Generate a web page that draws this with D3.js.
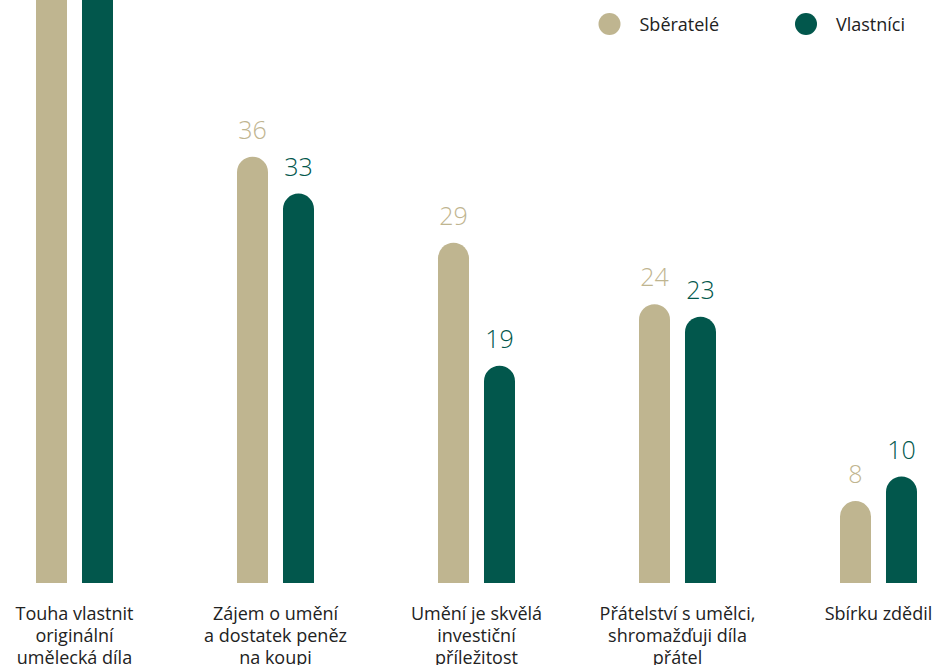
<!DOCTYPE html>
<html><head><meta charset="utf-8">
<script src="https://cdn.jsdelivr.net/npm/d3@7"></script>
<style>
html,body{margin:0;padding:0;background:#fff;}
svg{display:block;font-family:"Open Sans",sans-serif;}
</style></head>
<body>
<svg id="c" width="934" height="665"></svg>
<script>
const categories = ["Touha vlastnit originální umělecká díla","Zájem o umění a dostatek peněz na koupi","Umění je skvělá investiční příležitost","Přátelství s umělci, shromažďuji díla přátel","Sbírku zdědil"];
const categoryLines = [
  ["Touha vlastnit","originální","umělecká díla"],
  ["Zájem o umění","a dostatek peněz","na koupi"],
  ["Umění je skvělá","investiční","příležitost"],
  ["Přátelství s umělci,","shromažďuji díla","přátel"],
  ["Sbírku zdědil"]
];
const seriesNames = ["Sběratelé","Vlastníci"];
const sberatele = [62, 36, 29, 24, 8];
const vlastnici = [60, 33, 19, 23, 10];
const colors = ["#bfb590","#02574c"];

const svg = d3.select("#c");
const baseY = 583;

const x0 = d3.scaleBand().domain(categories).range([-26, 979]).paddingInner(0).paddingOuter(0);
const x1 = d3.scaleBand().domain(seriesNames).range([-38.5, 38.5]).paddingInner(0.326).paddingOuter(0);
const y = d3.scaleLinear().domain([0, 50]).range([599.5, 599.5 - 50*12.3]);

const data = categories.map((c,i)=>({cat:c, vals:[sberatele[i], vlastnici[i]]}));

const g = svg.append("g");
const bw = x1.bandwidth();
const r = bw/2;
function barPath(xl, top){
  return `M${xl},${baseY} L${xl},${top+r} A${r},${r} 0 0 1 ${xl+bw},${top+r} L${xl+bw},${baseY} Z`;
}
data.forEach((d,i)=>{
  const cx = x0(d.cat) + x0.bandwidth()/2;
  seriesNames.forEach((s,j)=>{
    const xl = cx + x1(s);
    const top = y(d.vals[j]);
    g.append("path").attr("d", barPath(xl, top)).attr("fill", colors[j]);
    if (top - 18 > 20) {
      g.append("text").attr("x", xl + bw/2).attr("y", top - 18)
        .attr("text-anchor","middle").attr("font-size",25).attr("font-weight",300)
        .attr("fill", colors[j]).text(d.vals[j]);
    }
  });
  const t = g.append("text").attr("text-anchor","middle").attr("font-size",18).attr("fill","#222");
  categoryLines[i].forEach((ln,k)=>{
    t.append("tspan").attr("x", cx).attr("y", 620 + k*22).text(ln);
  });
});

// legend
const legX = [609.5, 806];
seriesNames.forEach((s,j)=>{
  svg.append("circle").attr("cx", legX[j]).attr("cy", 24).attr("r", 11).attr("fill", colors[j]);
  svg.append("text").attr("x", legX[j]+30).attr("y", 30.5).attr("font-size",18).attr("fill","#222").text(s);
});
</script>
</body></html>
